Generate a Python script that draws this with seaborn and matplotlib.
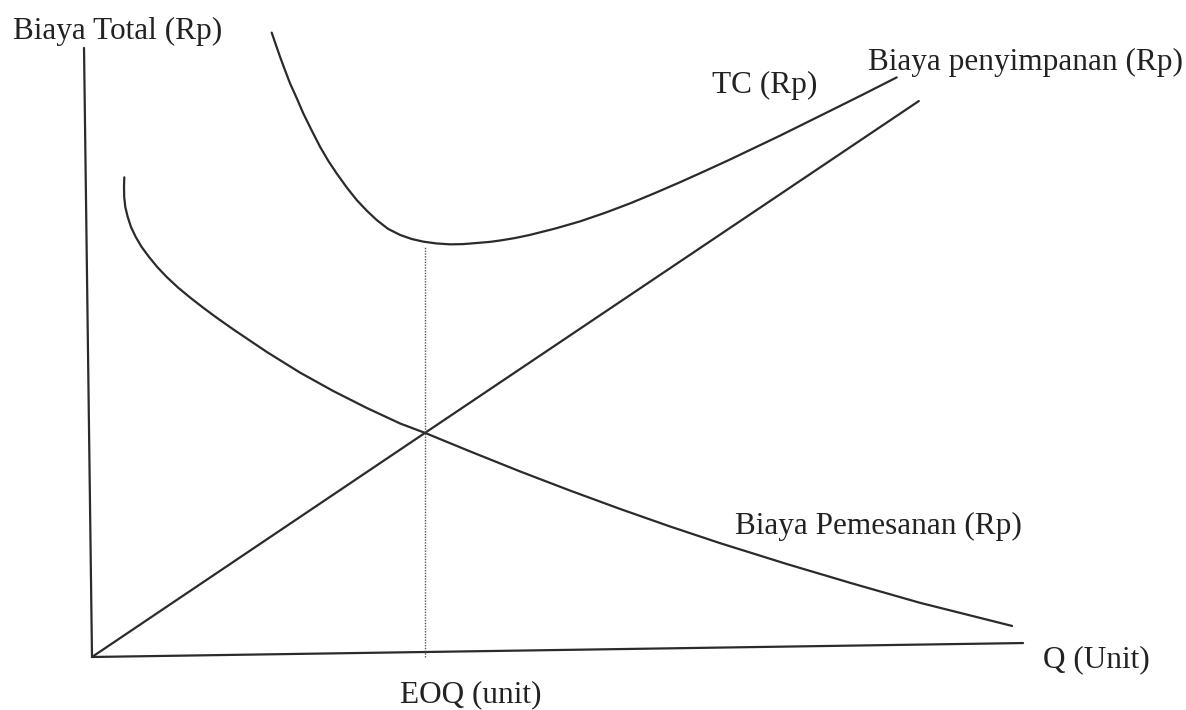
import matplotlib
matplotlib.use("Agg")
import matplotlib.pyplot as plt
import seaborn as sns
import pandas as pd

# ---- data (Q in units, cost in Rp; schematic EOQ diagram, EOQ = 100) ----
holding_q = [0, 100, 248.3]
holding_c = [0, 99.6, 247.1]

ordering_q = [9.70, 9.61, 9.67, 10.0, 10.72, 11.71, 13.12, 14.92, 17.12, 19.61, 22.43, 25.83,
              29.43, 33.33, 37.54, 42.43, 52.46, 62.46, 72.46, 82.49, 92.49, 100,
              113.5, 128.5, 143.5, 158.6, 173.6, 188.6, 208.7, 228.5, 248.6, 276.3]
ordering_c = [213.2, 208.9, 204.4, 200.0, 195.6, 191.1, 186.7, 182.2, 177.8, 173.3, 168.9, 164.2,
              159.8, 155.3, 150.7, 145.6, 135.6, 126.4, 118.2, 110.7, 103.8, 99.6,
              91.4, 82.5, 74.0, 65.8, 58.0, 50.6, 41.3, 32.6, 24.1, 13.8]

tc_q = [53.96, 55.26, 56.46, 57.96, 59.46, 61.47, 63.45, 65.98, 68.47, 70.96, 73.48, 76.49,
        79.49, 82.49, 85.50, 88.89, 92.49, 95.95, 99.49, 103.45, 107.51, 111.41, 115.53,
        119.52, 122.52, 127.03, 131.53, 139.04, 146.55, 154.05, 161.56, 169.07, 176.58,
        184.08, 191.59, 199.10, 206.61, 214.11, 221.62, 231.53, 241.65]
tc_c = [277.5, 271.9, 266.8, 260.8, 255.0, 248.4, 241.6, 234.0, 226.8, 220.5, 214.9, 208.7,
        203.1, 198.4, 194.2, 190.3, 187.6, 185.8, 184.6, 183.8, 183.4, 183.5, 184.0,
        184.5, 185.1, 186.2, 187.6, 190.4, 193.6, 197.4, 201.6, 206.2, 211.0,
        216.0, 221.1, 226.4, 231.7, 237.2, 242.7, 250.0, 257.6]

eoq_q = [100, 100]
eoq_c = [0, 182.2]

yaxis_q = [0, -2.4]
yaxis_c = [0, 270.7]
xaxis_q = [0, 279.6]
xaxis_c = [0, 6.2]

labels = {
    "Biaya Total (Rp)": (-23.8, 278.0),
    "TC (Rp)": (186.2, 254.2),
    "Biaya penyimpanan (Rp)": (233.0, 264.4),
    "Biaya Pemesanan (Rp)": (193.1, 57.8),
    "Q (Unit)": (285.6, -1.3),
    "EOQ (unit)": (92.5, -16.9),
}

# ---- style ----
sns.set_theme(style="white")
plt.rcParams["font.family"] = ["Liberation Serif", "DejaVu Serif"]

fig = plt.figure(figsize=(11.86, 7.10), dpi=100)
ax = fig.add_axes([0, 0, 1, 1])

line_col = "#2b2b2b"
lw = 1.6

def draw(q, c, **kw):
    df = pd.DataFrame({"q": q, "c": c})
    sns.lineplot(data=df, x="q", y="c", sort=False, estimator=None, ax=ax, **kw)

draw(yaxis_q, yaxis_c, color=line_col, linewidth=lw)
draw(xaxis_q, xaxis_c, color=line_col, linewidth=lw)
draw(holding_q, holding_c, color=line_col, linewidth=lw)
draw(ordering_q, ordering_c, color=line_col, linewidth=lw)
draw(tc_q, tc_c, color=line_col, linewidth=lw)
draw(eoq_q, eoq_c, color="#555555", linewidth=1.0, linestyle=(0, (1, 1)))

for txt, (x, y) in labels.items():
    ax.text(x, y, txt, ha="left", va="center", fontsize=22.5, color="#222222")

ax.set_xlim(-27.63, 328.53)
ax.set_ylim(-23.56, 292.0)
ax.set_axis_off()

fig.savefig("out.png", dpi=100, facecolor="white")
